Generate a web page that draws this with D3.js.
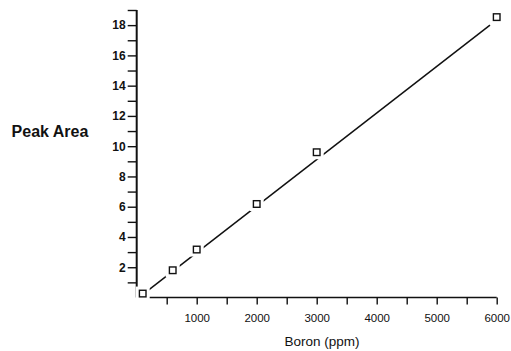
<!DOCTYPE html>
<html>
<head>
<meta charset="utf-8">
<script src="https://cdn.jsdelivr.net/npm/d3@7"></script>
<style>
  body { margin: 0; background: #fff; }
  svg { display: block; font-family: "Liberation Sans", Arial, sans-serif; }
</style>
</head>
<body>
<svg id="chart" width="511" height="351"></svg>
<script>
// measured points (boron ppm vs peak area)
const boron = [100, 600, 1000, 2000, 3000, 6000];
const peakArea = [0.26, 1.8, 3.17, 6.18, 9.6, 18.53];

// fitted calibration line, end points
const fitBoron = [50, 5888];
const fitArea = [0.04, 18.0];

const xTicks = d3.range(500, 6001, 500);
const xLabels = [1000, 2000, 3000, 4000, 5000, 6000];
const yTicks = d3.range(1, 20, 1);
const yLabels = [2, 4, 6, 8, 10, 12, 14, 16, 18];

const svg = d3.select('#chart');
const ink = '#111';

const x = d3.scaleLinear().domain([0, 6000]).range([136.7, 496.7]);
const y = d3.scaleLinear().domain([0, 19]).range([297.5, 10]);

// x axis
const xAxis = svg.append('g').attr('transform', `translate(0,${y(0)})`)
  .call(d3.axisBottom(x).tickValues(xTicks).tickSize(7).tickSizeOuter(0)
    .tickFormat(d => xLabels.includes(d) ? d : ''));
xAxis.select('.domain').attr('stroke', ink).attr('stroke-width', 1.6)
  .attr('d', `M${x(0)},0H${x(6000)}`);
xAxis.selectAll('.tick line').attr('stroke', ink).attr('stroke-width', 1.4);
xAxis.selectAll('.tick text').attr('fill', ink).attr('font-size', 11.5).attr('dy', '1.3em');

// y axis
const yAxis = svg.append('g').attr('transform', `translate(${x(0)},0)`)
  .call(d3.axisLeft(y).tickValues(yTicks).tickSize(9).tickSizeOuter(0)
    .tickFormat(d => yLabels.includes(d) ? d : ''));
yAxis.select('.domain').attr('stroke', ink).attr('stroke-width', 2)
  .attr('d', `M0,${y(19)}V${y(0)}`);
yAxis.selectAll('.tick line').attr('stroke', ink).attr('stroke-width', 1.4);
yAxis.selectAll('.tick text').attr('fill', ink).attr('font-size', 12)
  .attr('font-weight', 'bold').attr('x', -11);

// fitted line
svg.append('line')
  .attr('x1', x(fitBoron[0])).attr('y1', y(fitArea[0]))
  .attr('x2', x(fitBoron[1])).attr('y2', y(fitArea[1]))
  .attr('stroke', ink).attr('stroke-width', 1.5);

// markers with a white halo so the line breaks around them
const pts = boron.map((b, i) => ({ b, a: peakArea[i] }));
svg.selectAll('.halo').data(pts).enter().append('rect')
  .attr('class', 'halo')
  .attr('x', d => x(d.b) - 7).attr('y', d => y(d.a) - 7)
  .attr('width', 14).attr('height', 14).attr('fill', '#fff');
svg.selectAll('.pt').data(pts).enter().append('rect')
  .attr('class', 'pt')
  .attr('x', d => x(d.b) - 3.3).attr('y', d => y(d.a) - 3.3)
  .attr('width', 6.6).attr('height', 6.6)
  .attr('fill', '#fff').attr('stroke', ink).attr('stroke-width', 1.4);

// axis titles
svg.append('text').attr('x', 50).attr('y', 137).attr('text-anchor', 'middle')
  .attr('font-size', 16).attr('font-weight', 'bold').attr('fill', ink).text('Peak Area');
svg.append('text').attr('x', 322).attr('y', 346).attr('text-anchor', 'middle')
  .attr('font-size', 13.5).attr('fill', ink).text('Boron (ppm)');
</script>
</body>
</html>
